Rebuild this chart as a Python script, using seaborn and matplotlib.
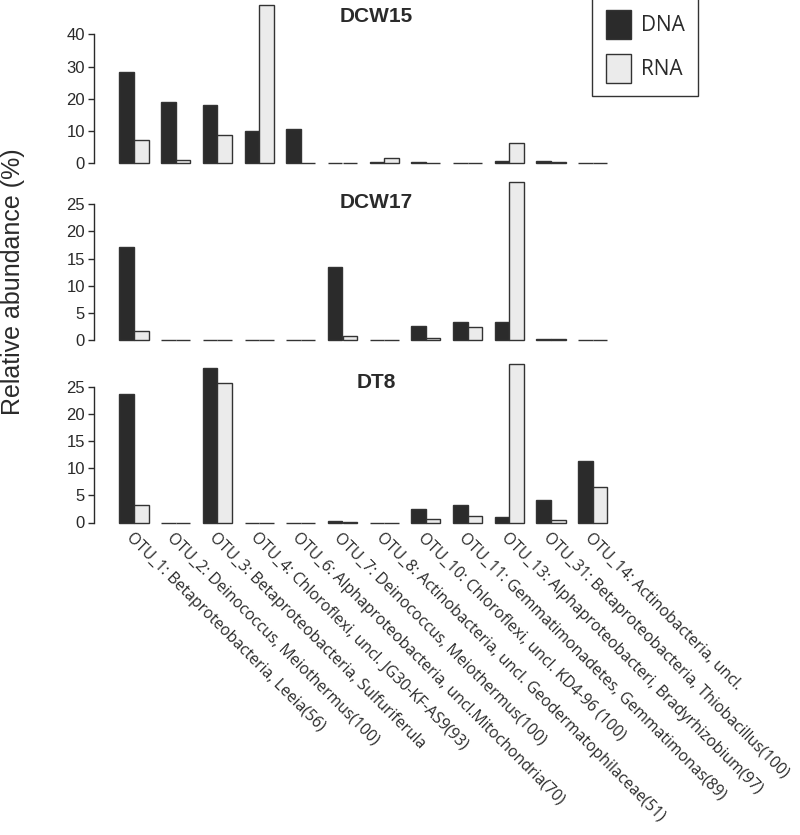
import matplotlib
matplotlib.use('Agg')
import matplotlib.pyplot as plt
from matplotlib.patches import Patch
import seaborn as sns
import pandas as pd

otus = ['OTU_1: Betaproteobacteria, Leeia(56)',
        'OTU_2: Deinococcus, Meiothermus(100)',
        'OTU_3: Betaproteobacteria, Sulfuriferula',
        'OTU_4: Chloroflexi, uncl. JG30-KF-AS9(93)',
        'OTU_6: Alphaproteobacteria, uncl.Mitochondria(70)',
        'OTU_7: Deinococcus, Meiothermus(100)',
        'OTU_8: Actinobacteria, uncl. Geodermatophilaceae(51)',
        'OTU_10: Chloroflexi, uncl. KD4-96 (100)',
        'OTU_11: Gemmatimonadetes, Gemmatimonas(89)',
        'OTU_13: Alphaproteobacteri, Bradyrhizobium(97)',
        'OTU_31: Betaproteobacteria, Thiobacillus(100)',
        'OTU_14: Actinobacteria, uncl.']
samples = ['DCW15', 'DCW17', 'DT8']

dcw15_dna = [28.4, 19.0, 18.0, 9.9, 10.5, 0.0, 0.4, 0.3, 0.0, 0.6, 0.8, 0.05]
dcw15_rna = [7.2, 1.0, 8.7, 49.1, 0.0, 0.0, 1.6, 0.1, 0.0, 6.4, 0.3, 0.05]
dcw17_dna = [17.2, 0.0, 0.0, 0.0, 0.0, 13.5, 0.0, 2.5, 3.4, 3.4, 0.2, 0.0]
dcw17_rna = [1.6, 0.0, 0.0, 0.0, 0.0, 0.7, 0.0, 0.4, 2.4, 29.1, 0.1, 0.0]
dt8_dna = [23.6, 0.0, 28.4, 0.0, 0.0, 0.3, 0.0, 2.4, 3.2, 1.1, 4.1, 11.4]
dt8_rna = [3.3, 0.0, 25.7, 0.0, 0.0, 0.1, 0.0, 0.65, 1.25, 29.1, 0.45, 6.6]

axis_top = [40, 25, 25]
tick_step = [10, 5, 5]

sns.set_style('white')
plt.rcParams['font.family'] = ['Liberation Sans', 'DejaVu Sans']

pal = {'DNA': '#2b2b2b', 'RNA': '#ebebeb'}
ink = '#2a2a2a'

W, H = 800, 835
fig = plt.figure(figsize=(W / 100, H / 100), dpi=100)

# layout in pixels: (axes top, axes bottom, y of zero, px per unit)
boxes = [(0, 168, 163.3, 3.225), (175, 345, 340.0, 5.43), (358, 527, 522.5, 5.43)]
x_left, x_right, x0, dx = 94, 620, 134, 41.7
title_y = [17, 202, 383]

series = [(dcw15_dna, dcw15_rna), (dcw17_dna, dcw17_rna), (dt8_dna, dt8_rna)]

for k, name in enumerate(samples):
    dna, rna = series[k]
    pt, pb, y0, s = boxes[k]
    ax = fig.add_axes([x_left / W, 1 - pb / H, (x_right - x_left) / W, (pb - pt) / H])
    df = pd.DataFrame({'otu': otus * 2,
                       'value': dna + rna,
                       'type': ['DNA'] * len(otus) + ['RNA'] * len(otus)})
    sns.barplot(data=df, x='otu', y='value', hue='type', order=otus,
                hue_order=['DNA', 'RNA'], palette=pal, saturation=1,
                width=0.7, edgecolor='#333333', linewidth=1.0,
                errorbar=None, legend=False, ax=ax)
    ax.set_xlim((x_left - x0) / dx, (x_right - x0) / dx)
    ax.set_ylim(-(pb - y0) / s, (y0 - pt) / s)
    ax.patch.set_alpha(0)

    sns.despine(ax=ax, bottom=True)
    ax.spines['left'].set_bounds(0, axis_top[k])
    ax.spines['left'].set_color(ink)
    ax.spines['left'].set_linewidth(1.0)
    ax.set_yticks(range(0, axis_top[k] + 1, tick_step[k]))
    ax.tick_params(axis='y', length=4.5, width=1.0, color=ink, labelsize=12,
                   labelcolor=ink, pad=2, left=True)
    ax.tick_params(axis='x', length=0)
    ax.set_xlabel('')
    ax.set_ylabel('')

    if k < 2:
        ax.tick_params(axis='x', labelbottom=False)
    else:
        ax.set_xticks(range(len(otus)))
        ax.set_xticklabels(otus, rotation=-45, ha='left', va='top',
                           rotation_mode='anchor', fontsize=11.3,
                           family=['Open Sans', 'DejaVu Sans'], color=ink)
        ax.tick_params(axis='x', pad=2)

    fig.text(376 / W, 1 - title_y[k] / H, name, ha='center', va='center',
             fontsize=15, fontweight='bold', color=ink)

fig.text(13 / W, 1 - 282 / H, 'Relative abundance (%)', rotation=90,
         ha='center', va='center', fontsize=18, color=ink)

handles = [Patch(facecolor=pal['DNA'], edgecolor='#333333', linewidth=1.0, label='DNA'),
           Patch(facecolor=pal['RNA'], edgecolor='#333333', linewidth=1.0, label='RNA')]
leg = fig.legend(handles=handles, loc='upper left', bbox_to_anchor=(592 / W, 1.004),
                 prop={'family': ['Open Sans', 'DejaVu Sans'], 'size': 15},
                 frameon=True, fancybox=False, edgecolor='#333333', framealpha=1,
                 handlelength=1.2, handleheight=1.77, labelspacing=0.7,
                 borderpad=0.65, handletextpad=0.5, borderaxespad=0)
leg.get_frame().set_linewidth(1.0)
for t in leg.get_texts():
    t.set_color(ink)

fig.savefig('out.png', dpi=100)
